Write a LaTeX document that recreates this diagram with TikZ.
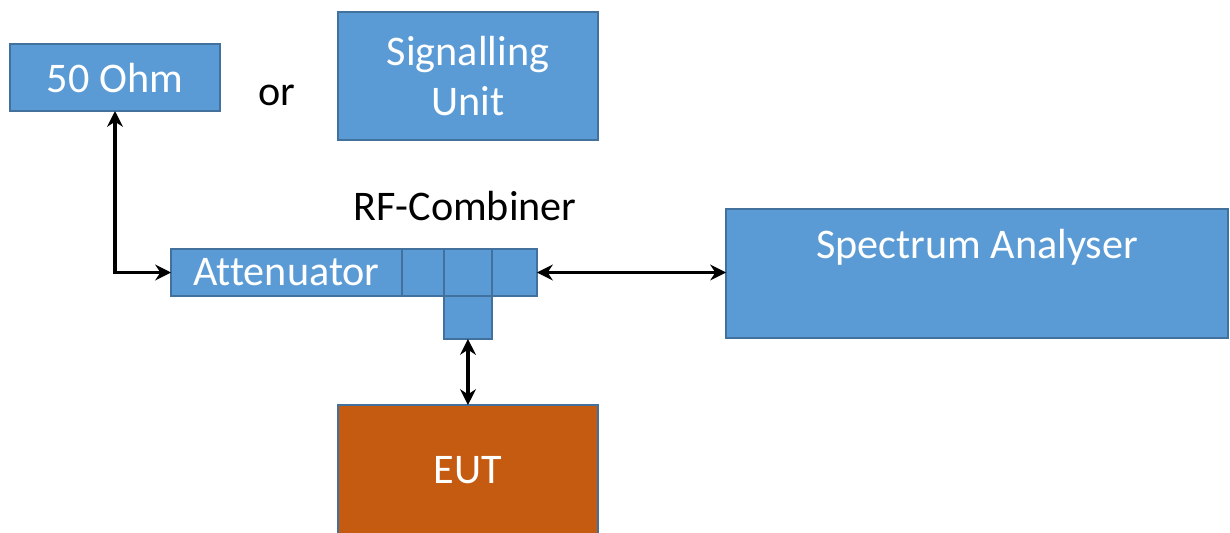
\documentclass[tikz,border=0pt]{standalone}
\usepackage{fontspec}
\setmainfont{Carlito}[Ligatures=NoCommon]
\usetikzlibrary{arrows.meta,positioning}

\definecolor{boxblue}{HTML}{5B9BD5}
\definecolor{boxedge}{HTML}{41719C}
\definecolor{eutorange}{HTML}{C55A11}

\tikzset{
  blk/.style={draw=boxedge, line width=0.8pt, fill=boxblue, text=white, inner sep=0pt,
    outer sep=0pt, font=\fontsize{24}{28}\selectfont, align=center},
  link/.style={line width=2pt, {Stealth[length=9pt,width=9pt]}-{Stealth[length=9pt,width=9pt]}},
  plain/.style={font=\fontsize{24}{28}\selectfont}
}

\begin{document}
\begin{tikzpicture}[x=0.02cm, y=-0.02cm]
    \useasboundingbox (0, 0) rectangle (1230, 532);

    \node[blk, minimum width=4.2cm, minimum height=1.34cm] (ohm) at (115, 77.5) {50 Ohm};
    \node[plain, anchor=base] (or) at (277, 105) {or};
    \node[blk, minimum width=5.2cm, minimum height=2.56cm] (sig) at (468, 76) {Signalling\\Unit};

    \node[plain] (rfc) at (465, 206) {RF-Combiner};

    % attenuator and combiner cells
    \node[blk, minimum width=4.62cm, minimum height=0.94cm] (att) at (286.5, 272.5) {Attenuator};
    \node[blk, minimum width=0.84cm, minimum height=0.94cm, right=0pt of att] (c1) {};
    \node[blk, minimum width=0.96cm, minimum height=0.94cm, right=0pt of c1] (c2) {};
    \node[blk, minimum width=0.9cm, minimum height=0.94cm, right=0pt of c2] (c3) {};
    \node[blk, minimum width=0.96cm, minimum height=0.86cm, below=0pt of c2] (c4) {};

    \node[blk, minimum width=10.04cm, minimum height=2.58cm,
      label={[text=white, font=\fontsize{24}{28}\selectfont, yshift=-0.76cm, anchor=center]north:Spectrum Analyser}] (spec) at (977, 273.5) {};

    \node[blk, fill=eutorange, minimum width=5.2cm, minimum height=2.6cm] (eut) at (468, 470) {EUT};

    \draw[link] (ohm.south) |- (att.west);
    \draw[link] (c3.east) -- (c3.east -| spec.west);
    \draw[link] (c4.south) -- (c4.south |- eut.north);
\end{tikzpicture}
\end{document}
